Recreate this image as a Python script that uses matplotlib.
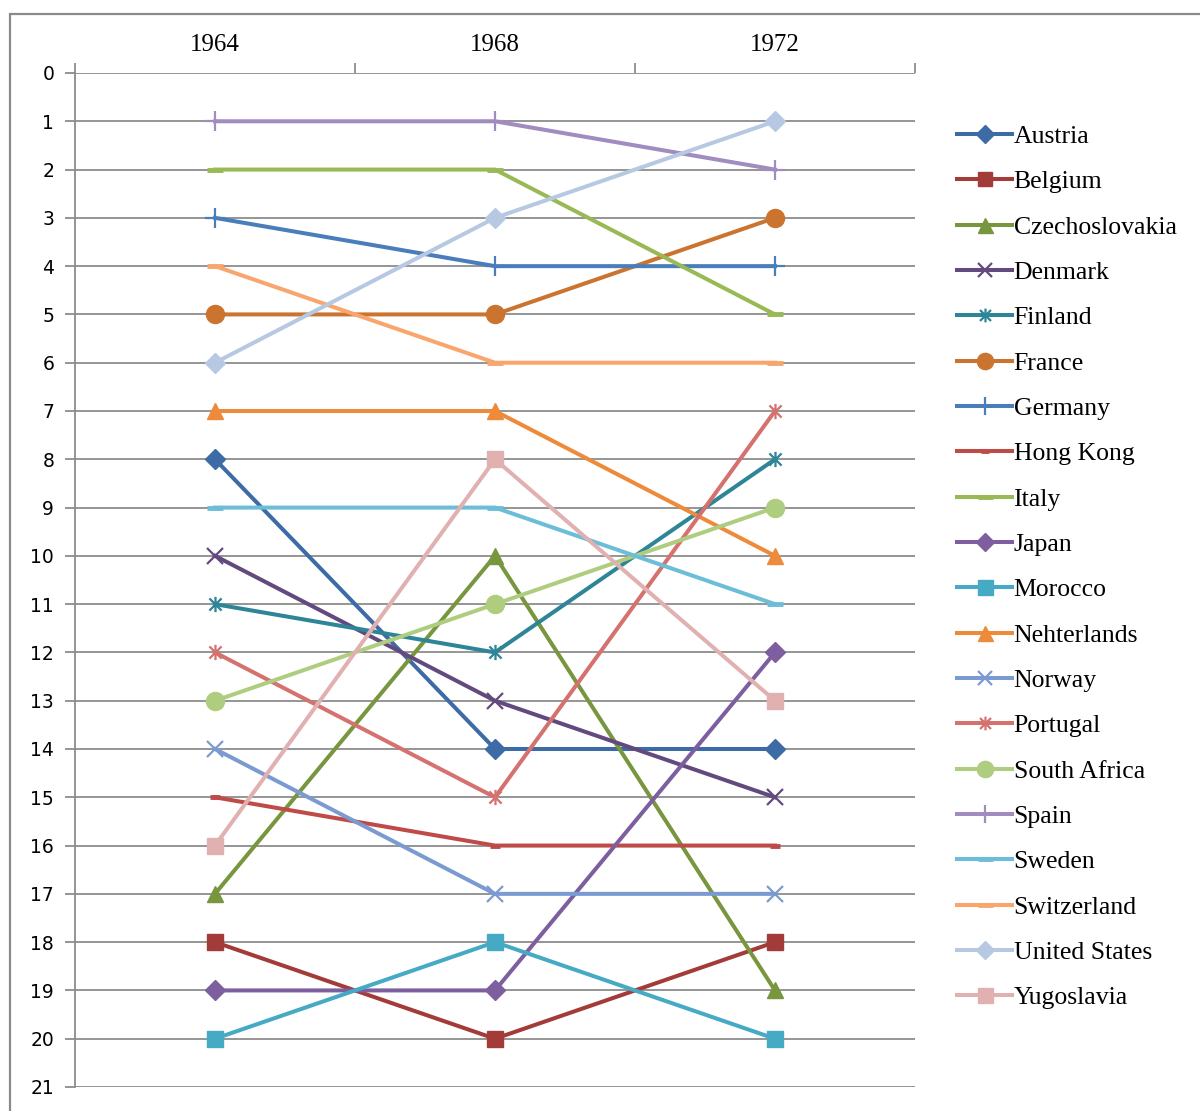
import matplotlib
matplotlib.use("Agg")
import matplotlib.pyplot as plt
from matplotlib.path import Path
from matplotlib.patches import Rectangle

# Olympic-style ranking by country across three years
years = ["1964", "1968", "1972"]
countries = ["Austria", "Belgium", "Czechoslovakia", "Denmark", "Finland", "France",
             "Germany", "Hong Kong", "Italy", "Japan", "Morocco", "Nehterlands",
             "Norway", "Portugal", "South Africa", "Spain", "Sweden", "Switzerland",
             "United States", "Yugoslavia"]
austria = [8, 14, 14]
belgium = [18, 20, 18]
czechoslovakia = [17, 10, 19]
denmark = [10, 13, 15]
finland = [11, 12, 8]
france = [5, 5, 3]
germany = [3, 4, 4]
hong_kong = [15, 16, 16]
italy = [2, 2, 5]
japan = [19, 19, 12]
morocco = [20, 18, 20]
netherlands = [7, 7, 10]
norway = [14, 17, 17]
portugal = [12, 15, 7]
south_africa = [13, 11, 9]
spain = [1, 1, 2]
sweden = [9, 9, 11]
switzerland = [4, 6, 6]
united_states = [6, 3, 1]
yugoslavia = [16, 8, 13]

ranks = [austria, belgium, czechoslovakia, denmark, finland, france, germany,
         hong_kong, italy, japan, morocco, netherlands, norway, portugal,
         south_africa, spain, sweden, switzerland, united_states, yugoslavia]

# star marker: an x crossed by a vertical bar
star = Path([(-1, -1), (1, 1), (-1, 1), (1, -1), (0, -1.25), (0, 1.25)],
            [Path.MOVETO, Path.LINETO, Path.MOVETO, Path.LINETO, Path.MOVETO, Path.LINETO])

styles = [
    ("#3D6BA6", "D", 10, 1.0),
    ("#A33B38", "s", 11, 1.0),
    ("#78963E", "^", 12, 1.0),
    ("#62497E", "x", 11, 1.6),
    ("#2E8597", star, 11, 1.6),
    ("#CB7430", "o", 13, 1.0),
    ("#4A7EBB", "+", 14, 1.6),
    ("#BE4B48", "_", 7, 3.5),
    ("#98B954", "_", 12, 3.5),
    ("#7D5FA0", "D", 10, 1.0),
    ("#46AAC5", "s", 12, 1.0),
    ("#EE8B3A", "^", 12, 1.0),
    ("#7C9AD2", "x", 11, 1.6),
    ("#D5716E", star, 11, 1.6),
    ("#AECD7E", "o", 13, 1.0),
    ("#A08CBE", "+", 14, 1.6),
    ("#6CBED8", "_", 12, 3.5),
    ("#F8A56E", "_", 12, 3.5),
    ("#B7C8E3", "D", 10, 1.0),
    ("#E0B1B0", "s", 12, 1.0),
]

W, H = 1200, 1111
fig = plt.figure(figsize=(W / 100, H / 100), dpi=100)
fig.patch.set_facecolor("white")

# outer chart border
fig.patches.append(Rectangle((10 / W, -0.01), 1.02, 1 - 14 / H + 0.01,
                             transform=fig.transFigure, fill=False,
                             edgecolor="#8a8a8a", linewidth=1.6, zorder=0))

ax = fig.add_axes([75 / W, 1 - 1087 / H, 840 / W, (1087 - 73) / H])

xpos = [i + 0.5 for i in range(len(years))]
grid_col = "#8c8c8c"
for y in range(0, 22):
    ax.axhline(y, color=grid_col, linewidth=1.3, zorder=1)

for name, vals, (col, mk, ms, mew) in zip(countries, ranks, styles):
    ax.plot(xpos, vals, color=col, linewidth=2.9, marker=mk, markersize=ms,
            markeredgewidth=mew, markerfacecolor=col, markeredgecolor=col,
            label=name, zorder=3, clip_on=False)

ax.set_xlim(0, 3)
ax.set_ylim(21, 0)
ax.set_yticks(range(0, 22))
ax.set_yticklabels([str(v) for v in range(0, 22)])
ax.xaxis.tick_top()
ax.set_xticks([0, 1, 2, 3])
ax.set_xticklabels([])
ax.set_xticks(xpos, minor=True)
ax.set_xticklabels(years, minor=True)
ax.tick_params(axis="x", which="major", direction="out", length=7, width=1.3,
               color=grid_col, top=True, bottom=False)
ax.tick_params(axis="x", which="minor", length=0, pad=12, labelsize=18,
               top=True, bottom=False, labeltop=True, labelbottom=False)
for lbl in ax.get_xticklabels(minor=True):
    lbl.set_fontfamily("Liberation Serif")
ax.tick_params(axis="y", direction="out", length=7, width=1.3, color=grid_col,
               labelsize=13.5, pad=8)
for lbl in ax.get_yticklabels():
    lbl.set_fontfamily("DejaVu Sans")

for side in ("right", "bottom", "top"):
    ax.spines[side].set_visible(False)
ax.spines["left"].set_color(grid_col)
ax.spines["left"].set_linewidth(1.3)

fig.legend(loc="upper left", bbox_to_anchor=(957 / W, 1 - 125 / H),
           frameon=False, prop={"family": "Liberation Serif", "size": 18.5},
           handlelength=2.15, handletextpad=0.05, labelspacing=0.87,
           markerscale=0.9, borderaxespad=0, borderpad=0)

fig.savefig("out.png", dpi=100)
